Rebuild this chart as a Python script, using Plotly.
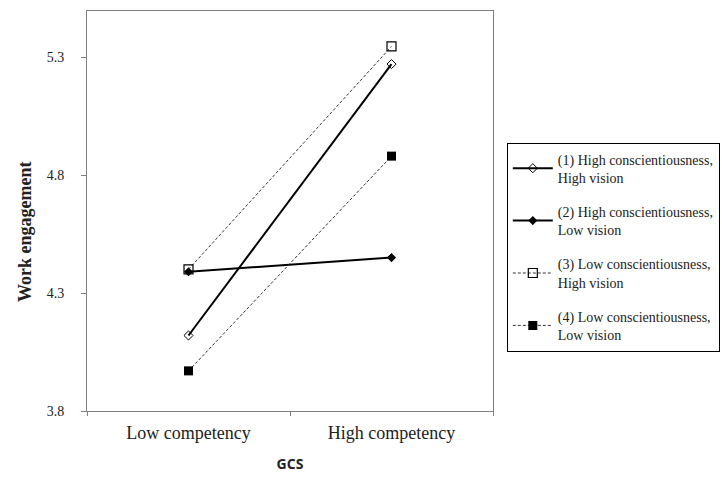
import plotly.graph_objects as go

categories = ["Low competency", "High competency"]
series_names = [
    "(1) High conscientiousness,<br>High vision",
    "(2) High conscientiousness,<br>Low vision",
    "(3) Low conscientiousness,<br>High vision",
    "(4) Low conscientiousness,<br>Low vision",
]
s1 = [4.12, 5.27]
s2 = [4.39, 4.45]
s3 = [4.40, 5.345]
s4 = [3.97, 4.88]
y_ticks = [3.8, 4.3, 4.8, 5.3]

styles = [
    dict(line=dict(color="black", width=2, dash="solid"),
         marker=dict(symbol="diamond-open", size=7, color="black", line=dict(width=1, color="black"))),
    dict(line=dict(color="black", width=2, dash="solid"),
         marker=dict(symbol="diamond", size=7, color="black")),
    dict(line=dict(color="#333333", width=1, dash="3px,2px"),
         marker=dict(symbol="square-open", size=9, color="black", line=dict(width=1.2, color="black"))),
    dict(line=dict(color="#333333", width=1, dash="3px,2px"),
         marker=dict(symbol="square", size=9, color="black")),
]

fig = go.Figure()
for i, (name, vals) in enumerate(zip(series_names, [s1, s2, s3, s4])):
    fig.add_trace(go.Scatter(
        x=categories, y=vals, name=name, mode="lines+markers",
        legendgroup=str(i), **styles[i]))

serif = "Liberation Serif, Times New Roman, serif"
fig.update_layout(
    width=722, height=479,
    margin=dict(l=87, r=229, t=11, b=68, autoexpand=False),
    paper_bgcolor="white", plot_bgcolor="white",
    showlegend=True,
    legend=dict(
        x=1.034, y=0.41, xanchor="left", yanchor="middle",
        bordercolor="black", borderwidth=1,
        font=dict(family=serif, size=14, color="#222222"),
        itemwidth=40, tracegroupgap=13,
        bgcolor="white",
    ),
    xaxis=dict(
        type="category", range=[-0.5, 1.5], automargin=False,
        tickson="boundaries", ticks="outside", ticklen=4,
        tickcolor="#808080", ticklabelstandoff=5,
        showline=True, linecolor="#808080", linewidth=1, mirror=True,
        showgrid=False,
        tickfont=dict(family=serif, size=18, color="#222222"),
        title=dict(text="<b>GCS</b>", font=dict(family="Open Sans, sans-serif", size=14, color="#222222"),
                   standoff=17),
    ),
    yaxis=dict(
        range=[3.8, 5.495], tickvals=y_ticks, ticktext=[f"{v:.1f}" for v in y_ticks],
        ticks="outside", ticklen=5, tickcolor="#808080", automargin=False,
        ticklabelstandoff=14,
        showline=True, linecolor="#808080", linewidth=1, mirror=True,
        showgrid=False, zeroline=False,
        tickfont=dict(family=serif, size=14, color="#222222"),
    ),
    annotations=[dict(
        text="<b>Work engagement</b>", textangle=-90,
        xref="paper", yref="paper", x=0, y=0.4475,
        xanchor="center", yanchor="middle", xshift=-62, showarrow=False,
        font=dict(family=serif, size=18, color="#222222"),
    )],
)

fig.write_html("out.html", config={"displayModeBar": False},
               post_script="document.body.style.margin='0';")
